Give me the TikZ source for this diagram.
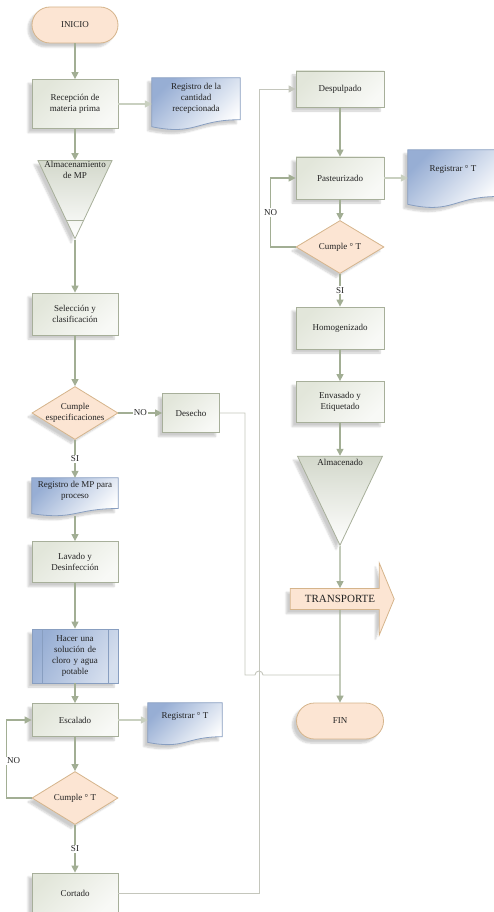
\documentclass[tikz,border=0pt]{standalone}
\usepackage{fontspec}
\setmainfont{Liberation Serif}
\usetikzlibrary{arrows.meta,shapes,positioning,calc,backgrounds,shadows.blur}

\definecolor{fcLine}{HTML}{A2AE94}
\definecolor{fcSide}{HTML}{C9D0C0}
\definecolor{fcRoute}{HTML}{C4C6BC}
\definecolor{fcBoxDraw}{HTML}{A7AF9A}
\definecolor{fcBoxFill}{HTML}{E2E6DA}
\definecolor{fcStoreFill}{HTML}{D3D8CB}
\definecolor{fcPeach}{HTML}{FCE5D3}
\definecolor{fcTan}{HTML}{D5B48B}
\definecolor{fcBlue}{HTML}{97AED4}
\definecolor{fcBlueDraw}{HTML}{889EC0}
\definecolor{fcText}{HTML}{222222}

\tikzset{
    fc-shadow/.style={
        blur shadow={shadow xshift=-4pt, shadow yshift=-4pt, shadow opacity=20, shadow blur steps=6}
    },
    fc-text/.style={
        font=\fontsize{9}{11}\selectfont,
        text=fcText,
        align=center
    },
    fc-proc/.style={
        rectangle,
        fc-text,
        draw=fcBoxDraw,
        line width=0.8pt,
        top color=fcBoxFill,
        bottom color=white!75!fcBoxFill,
        shading angle=45,
        minimum width=86pt,
        fc-shadow
    },
    fc-term/.style={
        rectangle,
        fc-text,
        rounded corners=18pt,
        draw=fcTan,
        line width=0.8pt,
        fill=fcPeach,
        minimum width=86pt,
        minimum height=36pt,
        fc-shadow
    },
    fc-decision/.style={
        diamond,
        fc-text,
        aspect=1.62,
        draw=fcTan,
        line width=0.8pt,
        fill=fcPeach,
        minimum width=86pt,
        minimum height=53pt,
        inner sep=0pt,
        fc-shadow
    },
    fc-doc/.style={
        rectangle,
        fc-text,
        inner sep=1pt
    },
    fc-docfill/.style={
        draw=fcBlueDraw,
        line width=0.8pt,
        top color=fcBlue,
        bottom color=white,
        shading angle=45,
        fc-shadow
    },
    fc-predef/.style={
        rectangle,
        fc-text,
        draw=fcBlueDraw,
        line width=0.8pt,
        top color=fcBlue,
        bottom color=white!60!fcBlue,
        shading angle=60,
        minimum width=86pt,
        text width=60pt,
        fc-shadow,
        path picture={
            \draw[fcBlueDraw,line width=0.8pt]
                ([xshift=10pt]path picture bounding box.north west) -- ([xshift=10pt]path picture bounding box.south west)
                ([xshift=-10pt]path picture bounding box.north east) -- ([xshift=-10pt]path picture bounding box.south east);
        }
    },
    fc-store/.style={
        isosceles triangle,
        isosceles triangle stretches,
        shape border rotate=-90,
        draw=fcBoxDraw,
        line width=0.8pt,
        top color=fcStoreFill,
        bottom color=white,
        inner sep=0pt,
        fc-shadow
    },
    fc-transp/.style={
        single arrow,
        fc-text,
        font=\fontsize{11}{13}\selectfont,
        single arrow head extend=18pt,
        single arrow tip angle=135,
        draw=fcTan,
        line width=0.8pt,
        fill=fcPeach,
        minimum height=104pt,
        minimum width=72pt,
        fc-shadow
    },
    fc-label/.style={
        fc-text,
        fill=white,
        inner sep=1pt
    },
    fc-route/.style={
        draw=fcRoute,
        line width=0.9pt
    },
    fc-loop/.style={
        draw=fcLine,
        line width=1.4pt,
        ->,>={Triangle[width=7pt,length=7pt]}
    },
    every edge/.style={
        draw=fcLine,
        ->,>={Triangle[width=7pt,length=7pt]},
        line width=1.4pt
    },
    fc-side/.style={
        draw=fcSide
    }
}

\newcommand{\fcdocpath}[1]{%
    \begin{scope}[on background layer]
        \path[fc-docfill] (#1.north west) -- (#1.north east)
            -- ($(#1.north east)!0.8!(#1.south east)$)
            .. controls ($(#1.north)!0.8!(#1.south)$) and ($(#1.north)!1.107!(#1.south)$)
            .. ($(#1.north west)!0.934!(#1.south west)$) -- cycle;
    \end{scope}}

\begin{document}
\begin{tikzpicture}
    \useasboundingbox (0,0) rectangle (493pt,-912pt);

    \node [fc-term] (Inicio) at (75pt,-25pt) {INICIO};
    \node [fc-proc,minimum height=49pt,below of=Inicio,node distance=79pt] (Recep) {Recepción de\\materia prima};
    \node [fc-doc,minimum width=88pt,minimum height=52pt,right of=Recep,node distance=121pt] (RegCant) {Registro de la\\cantidad\\recepcionada\\[3pt]};
    \node [fc-store,minimum width=74pt,minimum height=78pt,below of=Recep,node distance=80pt,
        label={[fc-text,anchor=north,inner sep=1pt]north:Almacenamiento\\de MP}] (AlmMP) {};
    \node [fc-proc,minimum height=42pt,below of=Recep,node distance=210pt] (Selec) {Selección y\\clasificación};
    \node [fc-decision,inner sep=-2.5pt,below of=Selec,node distance=99pt] (CumpleEsp) {Cumple\\especificaciones};
    \node [fc-proc,minimum width=57pt,minimum height=39pt,right of=CumpleEsp,node distance=116pt] (Desecho) {Desecho};
    \node [fc-doc,minimum width=86pt,minimum height=38pt,below of=CumpleEsp,node distance=84pt] (RegMP) {Registro de MP para\\proceso\\[3pt]};
    \node [fc-proc,minimum height=41pt,below of=RegMP,node distance=65pt] (Lavado) {Lavado y\\Desinfección};
    \node [fc-predef,minimum height=54pt,below of=Lavado,node distance=94pt] (Solucion) {Hacer una\\solución de\\cloro y agua\\potable};
    \node [fc-proc,minimum height=33pt,below of=Solucion,node distance=64pt] (Escal) {Escalado};
    \node [fc-doc,minimum width=74pt,minimum height=42pt] (RegT1) at (185pt,-724pt) {Registrar ° T\\[6pt]};
    \node [fc-decision,below of=Escal,node distance=78pt] (CumpleT1) {Cumple ° T};
    \node [fc-proc,minimum height=40pt,below of=CumpleT1,node distance=95pt] (Cortado) {Cortado};

    \node [fc-proc,minimum width=88pt,minimum height=36pt] (Despul) at (340pt,-89pt) {Despulpado};
    \node [fc-proc,minimum width=88pt,minimum height=42pt,below of=Despul,node distance=89pt] (Pasteur) {Pasteurizado};
    \node [fc-doc,minimum width=90pt,minimum height=58pt] (RegT2) at (453pt,-179pt) {Registrar ° T\\[10pt]};
    \node [fc-decision,minimum width=88pt,below of=Pasteur,node distance=69pt] (CumpleT2) {Cumple ° T};
    \node [fc-proc,minimum width=88pt,minimum height=42pt,below of=CumpleT2,node distance=81pt] (Homog) {Homogenizado};
    \node [fc-proc,minimum width=88pt,minimum height=41pt,below of=Homog,node distance=74pt] (Envas) {Envasado y\\Etiquetado};
    \node [fc-store,minimum width=85pt,minimum height=89pt,below of=Envas,node distance=81pt,
        label={[fc-text,anchor=north,inner sep=3pt]north:Almacenado}] (AlmFin) {};
    \node [fc-transp,below of=Envas,node distance=197pt] (Transp) {TRANSPORTE};
    \node [fc-term,minimum width=87pt,below of=Envas,node distance=319pt] (Fin) {FIN};

    \fcdocpath{RegCant}
    \fcdocpath{RegMP}
    \fcdocpath{RegT1}
    \fcdocpath{RegT2}
    \draw[fcBoxDraw,line width=0.8pt] ($(AlmMP.left corner)!0.756!(AlmMP.apex)$) -- ($(AlmMP.right corner)!0.756!(AlmMP.apex)$);

    \coordinate (CortTurn) at (259pt,-893pt);
    \coordinate (DesTurn) at (245pt,-675pt);

    \draw (Inicio) edge (Recep);
    \draw (Recep) edge[fc-side] (RegCant);
    \draw (Recep) edge (AlmMP);
    \draw (AlmMP.apex) edge (Selec);
    \draw (Selec) edge (CumpleEsp);
    \draw (CumpleEsp) edge node[fc-label] {NO} (Desecho);
    \draw (CumpleEsp) edge node[fc-label] {SI} (RegMP);
    \draw (RegMP) edge (Lavado);
    \draw (Lavado) edge (Solucion);
    \draw (Solucion) edge (Escal);
    \draw (Escal.east) edge[fc-side] (Escal.east -| RegT1.west);
    \draw (Escal) edge (CumpleT1);
    \draw (CumpleT1) edge node[fc-label] {SI} (Cortado);
    \draw[fc-loop] (CumpleT1.west) -- ++(-25pt,0) |- node[fc-label,pos=0.24,xshift=7pt] {NO} (Escal.west);

    \draw[fc-route,->,>={Triangle[width=7pt,length=7pt]}] (Cortado.east) -- (CortTurn) |- (Despul.west);
    \draw (Despul) edge (Pasteur);
    \draw (Pasteur) edge[fc-side] (RegT2.west |- Pasteur.east);
    \draw (Pasteur) edge (CumpleT2);
    \draw[fc-loop] (CumpleT2.west) -- ++(-25pt,0) |- node[fc-label,pos=0.25] {NO} (Pasteur.west);
    \draw (CumpleT2) edge node[fc-label] {SI} (Homog);
    \draw (Homog) edge (Envas);
    \draw (Envas) edge (AlmFin);
    \draw (AlmFin.apex) edge (Transp);
    \draw[fc-route] (Desecho.east) -| (DesTurn) -- ++(10pt,0) arc[start angle=180,end angle=0,radius=4pt] -- (Fin.north |- DesTurn);
    \draw (Transp) edge (Fin);
\end{tikzpicture}
\end{document}
